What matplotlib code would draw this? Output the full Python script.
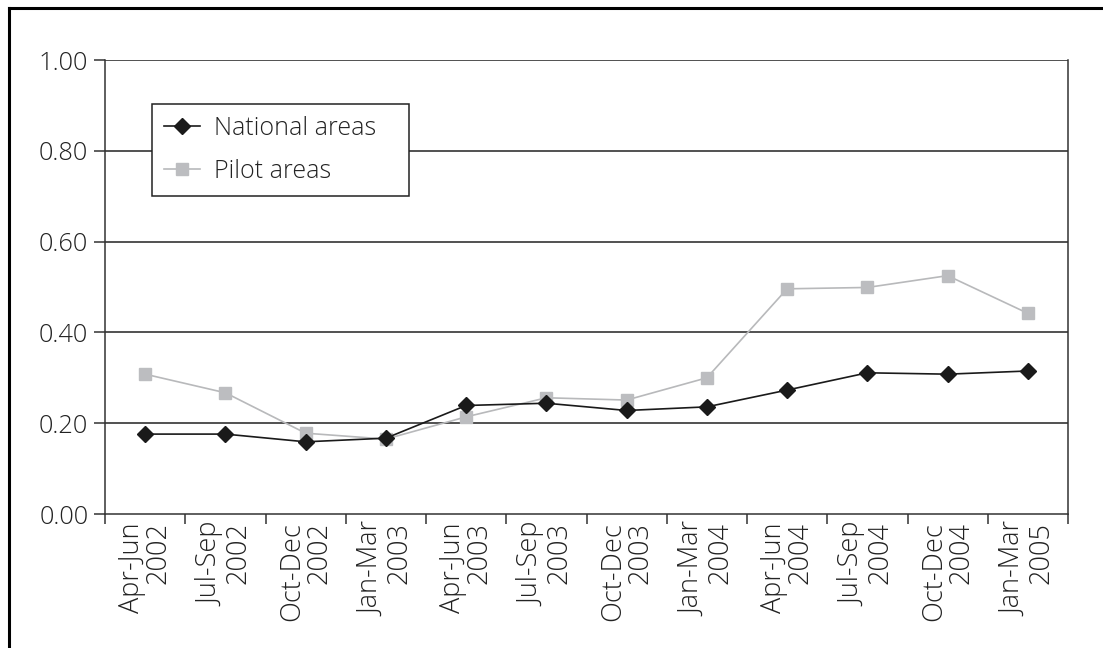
import matplotlib
matplotlib.use("Agg")
import matplotlib.pyplot as plt
from matplotlib.lines import Line2D
import numpy as np

plt.rcParams['font.family'] = ['Open Sans', 'DejaVu Sans']
plt.rcParams['font.weight'] = 'light'

categories = ["Apr-Jun\n2002", "Jul-Sep\n2002", "Oct-Dec\n2002", "Jan-Mar\n2003",
              "Apr-Jun\n2003", "Jul-Sep\n2003", "Oct-Dec\n2003", "Jan-Mar\n2004",
              "Apr-Jun\n2004", "Jul-Sep\n2004", "Oct-Dec\n2004", "Jan-Mar\n2005"]
national = [0.176, 0.176, 0.159, 0.167, 0.239, 0.244, 0.228, 0.236, 0.273, 0.311, 0.308, 0.315]
pilot = [0.308, 0.267, 0.178, 0.165, 0.214, 0.256, 0.251, 0.300, 0.496, 0.499, 0.525, 0.442]
yticks = [0.0, 0.2, 0.4, 0.6, 0.8, 1.0]

W, H = 1103, 648
fig = plt.figure(figsize=(W / 100, H / 100), dpi=100)
ax = fig.add_axes([105 / W, 1 - 514 / H, (1068 - 105) / W, (514 - 60) / H])

x = np.arange(len(categories))
ax.plot(x, pilot, color='#b8b9bb', lw=1.2, marker='s', markersize=9,
        markerfacecolor='#bcbdc0', markeredgecolor='#bcbdc0', label='Pilot areas', zorder=3)
ax.plot(x, national, color='#1a1a1a', lw=1.2, marker='D', markersize=8,
        markerfacecolor='#1a1a1a', markeredgecolor='#1a1a1a', label='National areas', zorder=4)

ax.set_xlim(-0.5, len(categories) - 0.5)
ax.set_ylim(0, 1.0)
ax.set_yticks(yticks)
ax.set_yticklabels([f"{v:.2f}" for v in yticks], fontsize=18.3, color='#222222')
for v in yticks[1:]:
    ax.axhline(v, color='#222222', lw=1.1, zorder=1)

ax.set_xticks(np.arange(len(categories) + 1) - 0.5)
ax.set_xticklabels([])
ax.set_xticks(x, minor=True)
ax.set_xticklabels(categories, minor=True, rotation=90, fontsize=19.5,
                   multialignment='right', color='#222222', linespacing=0.95)
ax.tick_params(axis='x', which='minor', length=0, pad=6)
ax.tick_params(axis='x', which='major', length=7, width=1.1, color='#333333', direction='out')
ax.tick_params(axis='y', length=8, width=1.1, color='#333333', direction='out', pad=4)

for s in ['left', 'right', 'bottom']:
    ax.spines[s].set_color('#333333')
    ax.spines[s].set_linewidth(1.1)
ax.spines['top'].set_visible(False)

handles, labels = ax.get_legend_handles_labels()
x0 = (152 - 105) / 963
x1 = (409 - 105) / 963
ytop = (514 - 104) / 454
leg = ax.legend(handles[::-1], labels[::-1], loc='upper left',
                bbox_to_anchor=(x0, ytop - 0.2, x1 - x0, 0.2), mode='expand',
                fontsize=18, frameon=True, fancybox=False, edgecolor='#222222',
                framealpha=1, borderpad=0.48, handlelength=1.45, handletextpad=0.55,
                labelspacing=0.7, borderaxespad=0)
leg.get_frame().set_linewidth(1.1)
for t in leg.get_texts():
    t.set_color('#222222')

# outer frame (left and top visible)
fig.add_artist(Line2D([9 / W, 9 / W], [0, 1 - 8 / H], transform=fig.transFigure,
                      color='black', lw=2.2))
fig.add_artist(Line2D([9 / W, 1], [1 - 8 / H, 1 - 8 / H], transform=fig.transFigure,
                      color='black', lw=2.2))

fig.savefig('out.png', dpi=100)
